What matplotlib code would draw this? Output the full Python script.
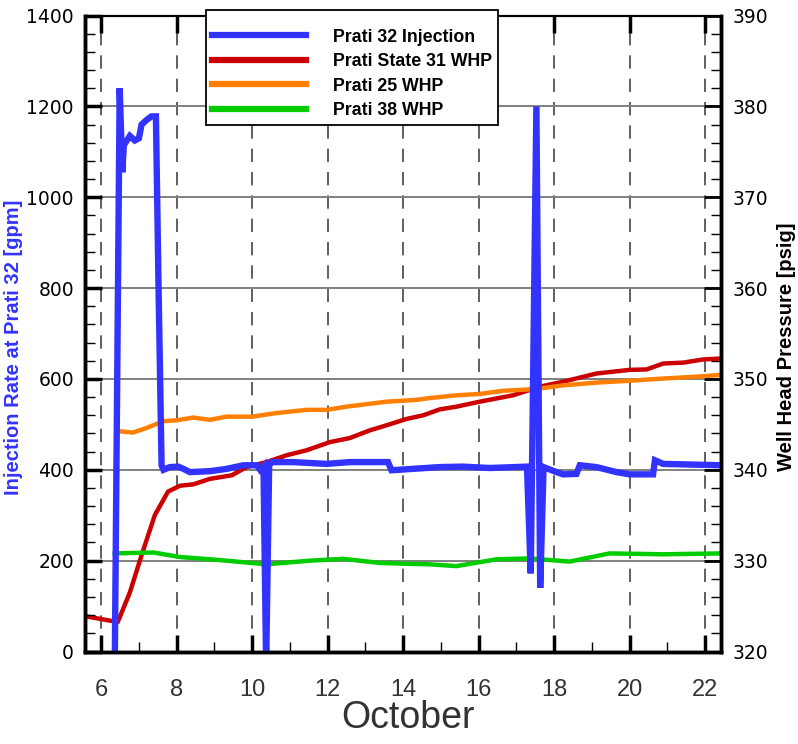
import matplotlib
matplotlib.use("Agg")
import matplotlib.pyplot as plt
from matplotlib import font_manager
from matplotlib.ticker import MultipleLocator

# ------------------------------------------------------------
# Data
# ------------------------------------------------------------

# Prati 32 injection rate [gpm] vs day of October
inj_day = [6.36, 6.49, 6.56, 6.60, 6.76, 6.89, 7.00, 7.07, 7.20, 7.33, 7.45,
           7.52, 7.60, 7.65, 7.82, 8.04, 8.18, 8.35, 8.88, 9.32, 9.77, 10.12,
           10.21, 10.30, 10.37, 10.45, 10.52, 11.09, 11.97, 12.59, 13.60, 13.69,
           14.97, 15.58, 16.29, 17.28, 17.38, 17.53, 17.63, 17.72, 18.06, 18.24,
           18.59, 18.68, 19.12, 19.65, 20.00, 20.62, 20.67, 20.89, 21.42, 22.42]
inj_gpm = [-30, 1240, 1055, 1115, 1135, 1125, 1130, 1160, 1170, 1178, 1178,
           800, 410, 400, 406, 407, 402, 395, 397, 402, 410, 410,
           400, 408, -30, 412, 417, 417, 413, 417, 417, 399,
           406, 407, 404, 407, 172, 1200, 140, 406, 395, 390,
           391, 410, 406, 395, 390, 390, 421, 413, 412, 410]

# Prati State 31 well head pressure [psig]
ps31_day = [5.56, 5.96, 6.44, 6.76, 7.07, 7.42, 7.77, 8.09, 8.44, 8.88, 9.46,
            9.85, 10.38, 10.91, 11.44, 12.06, 12.59, 13.12, 13.56, 14.09, 14.53,
            14.97, 15.41, 16.03, 16.91, 17.62, 18.24, 19.12, 20.00, 20.45, 20.89,
            21.42, 21.95, 22.42]
ps31_whp = [323.9, 323.6, 323.25, 326.5, 330.6, 335.0, 337.6, 338.25, 338.4,
            339.0, 339.4, 340.3, 340.85, 341.6, 342.15, 343.05, 343.5, 344.35,
            344.9, 345.6, 346.0, 346.65, 346.95, 347.5, 348.2, 349.15, 349.7,
            350.6, 351.0, 351.05, 351.7, 351.8, 352.15, 352.25]

# Prati 25 well head pressure [psig]
p25_day = [6.47, 6.84, 7.20, 7.64, 8.00, 8.44, 8.88, 9.32, 9.99, 10.65, 11.44,
           11.97, 12.50, 13.56, 14.35, 14.71, 15.41, 16.03, 16.65, 17.35, 17.62,
           18.24, 19.12, 20.00, 20.89, 21.77, 22.42]
p25_whp = [344.25, 344.1, 344.6, 345.35, 345.45, 345.75, 345.5, 345.85, 345.85,
           346.25, 346.6, 346.6, 346.95, 347.5, 347.7, 347.9, 348.2, 348.35,
           348.7, 348.85, 348.95, 349.3, 349.6, 349.8, 350.05, 350.25, 350.45]

# Prati 38 well head pressure [psig]
p38_day = [6.36, 7.38, 8.09, 8.88, 9.32, 10.37, 11.53, 12.41, 13.38, 14.18,
           14.70, 15.41, 16.47, 17.35, 18.41, 19.47, 20.89, 22.42]
p38_whp = [330.8, 330.9, 330.4, 330.15, 330.0, 329.6, 330.0, 330.2, 329.75,
           329.65, 329.6, 329.4, 330.15, 330.25, 329.9, 330.8, 330.7, 330.8]

x_ticks = [6, 8, 10, 12, 14, 16, 18, 20, 22]

# ------------------------------------------------------------
# Fonts
# ------------------------------------------------------------

names = {f.name for f in font_manager.fontManager.ttflist}
plain = "Liberation Sans" if "Liberation Sans" in names else "DejaVu Sans"

# ------------------------------------------------------------
# Figure
# ------------------------------------------------------------

fig = plt.figure(figsize=(7.98, 7.44), dpi=100)
ax = fig.add_axes([0.1065, 0.1243, 0.797, 0.8548])
ax2 = ax.twinx()

# left axis (injection) drawn on top of the pressure axis
ax.set_zorder(ax2.get_zorder() + 1)
ax.patch.set_visible(False)

l_inj, = ax.plot(inj_day, inj_gpm, color="#3333ff", lw=4.6,
                 label="Prati 32 Injection", solid_joinstyle="miter")
l31, = ax2.plot(ps31_day, ps31_whp, color="#cc0000", lw=3.2,
                label="Prati State 31 WHP")
l25, = ax2.plot(p25_day, p25_whp, color="#ff8000", lw=3.2,
                label="Prati 25 WHP")
l38, = ax2.plot(p38_day, p38_whp, color="#00cc00", lw=3.2,
                label="Prati 38 WHP")

ax.set_xlim(5.571, 22.42)
ax.set_ylim(0, 1400)
ax2.set_ylim(320, 390)

# ticks
ax.set_xticks(x_ticks)
ax.xaxis.set_minor_locator(MultipleLocator(1))
ax.yaxis.set_major_locator(MultipleLocator(200))
ax.yaxis.set_minor_locator(MultipleLocator(40))
ax2.yaxis.set_major_locator(MultipleLocator(10))
ax2.yaxis.set_minor_locator(MultipleLocator(2))

ax.tick_params(axis="both", which="major", direction="in", length=12,
               width=2.5, color="black")
ax.tick_params(axis="both", which="minor", direction="in", length=7,
               width=1.0, color="black")
ax.tick_params(axis="x", which="major", top=True, pad=20)
ax.tick_params(axis="y", which="major", pad=8)
ax2.tick_params(axis="y", which="major", direction="in", length=12,
                width=2.0, pad=8)
ax2.tick_params(axis="y", which="minor", direction="in", length=7, width=1.0)

for lab in ax.get_xticklabels():
    lab.set_fontfamily(plain)
    lab.set_fontsize(17)
    lab.set_color("#333333")
for lab in ax.get_yticklabels() + ax2.get_yticklabels():
    lab.set_fontfamily("DejaVu Sans")
    lab.set_fontsize(13.5)

# grid on the pressure axis (behind all lines)
ax2.xaxis.set_visible(True)
ax2.tick_params(axis="x", which="both", bottom=False, top=False,
                labelbottom=False, labeltop=False)
ax2.grid(axis="y", which="major", color="#808080", lw=1.4)
ax2.grid(axis="x", which="major", color="#444444", lw=1.2,
         linestyle=(0, (8, 6)))

# spines
for side in ["left", "right", "bottom"]:
    ax.spines[side].set_linewidth(2.5)
    ax2.spines[side].set_linewidth(2.5)
ax.spines["top"].set_linewidth(1.5)
ax2.spines["top"].set_linewidth(1.5)

# labels
ax.set_ylabel("Injection Rate at Prati 32 [gpm]", color="#3333ff",
              fontfamily=plain, fontweight="bold", fontsize=14.5)
ax.yaxis.set_label_coords(-0.097, 0.479)
ax2.set_ylabel("Well Head Pressure [psig]", color="black",
               fontfamily=plain, fontweight="bold", fontsize=14.5,
               rotation=90)
ax2.yaxis.set_label_coords(1.088, 0.479)
ax.set_xlabel("October", fontfamily=plain, fontsize=27, color="#333333")
ax.xaxis.set_label_coords(0.508, -0.077)

# legend
leg = ax.legend(handles=[l_inj, l31, l25, l38], loc="upper left",
                bbox_to_anchor=(206 / 798, 1 - 10 / 744),
                bbox_transform=fig.transFigure, borderaxespad=0,
                fancybox=False, framealpha=1, edgecolor="black",
                prop={"family": plain, "weight": "bold", "size": 12.8},
                handlelength=5.3, handletextpad=1.5, labelspacing=0.42,
                borderpad=0.35, title=" ", title_fontsize=4)
leg.get_frame().set_linewidth(1.3)
for h in leg.get_lines():
    h.set_linewidth(4.5)

fig.savefig("out.png", dpi=100)
